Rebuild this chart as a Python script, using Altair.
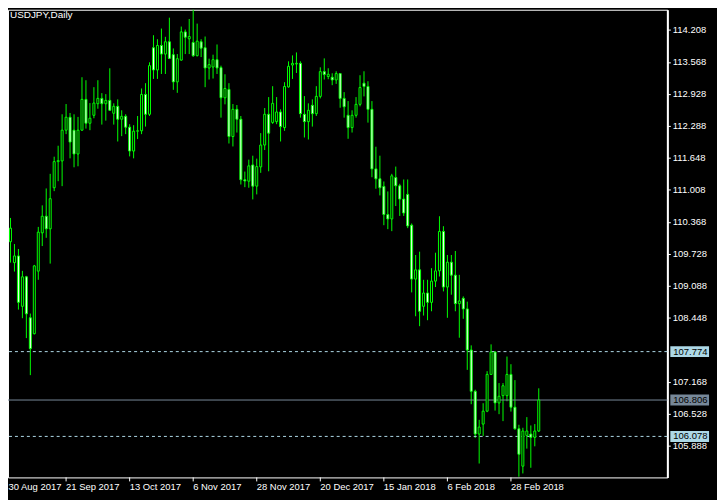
import altair as alt
import pandas as pd

# ---- OHLC data (daily USDJPY) ----
opens = [109.647, 110.322, 109.971, 109.554, 109.687, 108.680, 109.270, 108.450, 108.132, 109.383,
         110.149, 110.481, 110.229, 111.051, 111.573, 111.587, 112.202, 112.461, 112.202, 111.726,
         112.202, 112.818, 112.341, 112.500, 112.731, 112.838, 112.731, 112.798, 112.540, 112.679,
         112.421, 112.480, 112.262, 111.785, 112.183, 112.189, 112.917, 112.520, 113.851, 113.406,
         113.896, 113.724, 113.970, 113.712, 113.168, 113.604, 114.168, 114.029, 113.956, 113.692,
         113.970, 113.851, 113.446, 113.465, 113.612, 113.453, 112.850, 113.017, 112.075, 112.619,
         112.421, 111.210, 111.182, 111.507, 111.083, 111.468, 111.905, 112.520, 112.357, 112.373,
         112.566, 112.254, 113.068, 113.505, 113.525, 113.539, 112.520, 112.373, 112.699, 112.532,
         112.878, 113.374, 113.275, 113.261, 113.207, 113.334, 112.838, 112.500, 112.254, 112.500,
         112.719, 113.142, 113.076, 112.619, 111.428, 111.229, 111.077, 110.515, 110.427, 111.255,
         111.090, 110.824, 110.918, 110.302, 109.224, 109.409, 108.680, 108.946, 108.759, 109.184,
         109.389, 110.177, 109.065, 109.562, 109.303, 108.733, 108.839, 108.628, 107.806, 106.980,
         106.126, 106.325, 106.583, 107.318, 107.766, 106.748, 106.893, 106.893, 107.318, 106.662,
         106.231, 105.483, 106.098, 106.126, 106.059, 106.186]
highs = [110.362, 110.660, 110.447, 109.925, 109.826, 109.389, 109.289, 108.535, 109.508, 110.268,
         110.699, 111.037, 111.329, 111.672, 111.891, 112.520, 112.725, 112.546, 112.520, 112.467,
         113.261, 113.201, 112.745, 113.062, 113.201, 112.943, 112.923, 113.440, 112.739, 112.818,
         112.600, 112.520, 112.322, 112.302, 112.486, 113.036, 113.142, 113.559, 114.101, 114.021,
         114.234, 114.069, 114.452, 113.837, 113.724, 114.274, 114.214, 114.426, 114.716, 114.333,
         114.021, 114.075, 113.632, 113.712, 113.916, 113.493, 113.320, 113.142, 112.725, 112.705,
         112.486, 111.374, 111.613, 111.692, 111.633, 112.143, 112.645, 112.864, 113.082, 112.864,
         112.619, 113.162, 113.579, 113.698, 113.757, 113.579, 112.884, 112.739, 112.818, 113.082,
         113.459, 113.638, 113.440, 113.340, 113.380, 113.340, 112.963, 112.784, 112.600, 112.864,
         113.301, 113.380, 113.181, 112.784, 111.871, 111.692, 111.176, 110.977, 111.329, 111.474,
         111.130, 111.216, 111.216, 110.336, 109.706, 109.772, 109.210, 109.210, 109.442, 109.752,
         110.481, 110.282, 109.706, 109.706, 109.786, 109.309, 108.878, 108.773, 107.899, 107.012,
         106.410, 106.742, 107.383, 107.919, 107.780, 107.145, 107.145, 107.675, 107.522, 107.204,
         106.311, 106.251, 106.464, 106.297, 106.325, 107.040]
lows = [109.567, 109.871, 109.554, 109.375, 108.614, 108.442, 108.044, 107.304, 108.118, 109.210,
        109.885, 110.050, 109.534, 110.983, 111.182, 111.083, 112.123, 111.639, 111.460, 111.480,
        112.189, 112.234, 112.202, 112.441, 112.631, 112.314, 112.393, 112.586, 112.314, 111.976,
        112.083, 112.123, 111.678, 111.639, 112.024, 112.123, 112.274, 112.486, 113.227, 113.227,
        113.326, 113.326, 113.624, 113.009, 112.949, 113.592, 113.724, 113.724, 113.668, 113.678,
        113.664, 113.062, 113.215, 113.235, 113.326, 112.453, 112.719, 111.936, 111.877, 112.155,
        111.116, 111.063, 111.051, 110.818, 110.918, 111.349, 111.805, 111.380, 112.328, 112.322,
        111.976, 112.189, 113.052, 113.227, 113.346, 112.453, 112.056, 112.016, 112.274, 112.486,
        112.838, 113.215, 113.221, 113.102, 113.128, 112.651, 112.453, 112.030, 112.155, 112.453,
        112.679, 112.878, 112.353, 111.261, 111.031, 110.898, 110.302, 110.223, 110.183, 110.685,
        110.487, 110.487, 110.243, 108.958, 108.481, 108.283, 108.495, 108.402, 108.581, 109.065,
        109.276, 108.978, 108.450, 108.912, 108.581, 108.052, 108.430, 107.409, 106.722, 106.047,
        105.536, 106.087, 106.563, 107.310, 106.595, 106.523, 106.384, 106.781, 106.575, 106.212,
        105.272, 105.338, 105.834, 105.451, 105.880, 106.166]
closes = [110.322, 109.959, 110.243, 109.687, 108.759, 109.270, 108.529, 107.834, 109.488, 110.163,
          110.481, 110.229, 110.832, 111.573, 111.593, 112.202, 112.461, 111.964, 111.726, 112.202,
          112.818, 112.341, 112.441, 112.745, 112.838, 112.731, 112.798, 112.600, 112.679, 112.421,
          112.480, 112.262, 111.785, 112.183, 112.189, 112.917, 112.520, 113.493, 113.406, 113.896,
          113.724, 113.970, 113.638, 113.168, 113.632, 114.168, 114.061, 114.075, 113.692, 113.982,
          113.843, 113.446, 113.513, 113.612, 113.446, 112.850, 113.036, 112.075, 112.619, 112.421,
          111.210, 111.186, 111.488, 111.083, 111.474, 111.905, 112.520, 112.143, 112.739, 112.566,
          112.274, 113.076, 113.479, 113.539, 113.539, 112.532, 112.373, 112.600, 112.532, 112.878,
          113.374, 113.314, 113.320, 113.207, 113.334, 112.838, 112.671, 112.254, 112.500, 112.719,
          113.056, 113.076, 112.619, 111.428, 111.229, 111.051, 110.515, 110.427, 111.289, 111.090,
          110.824, 110.546, 110.288, 109.224, 109.409, 108.581, 108.946, 108.759, 109.184, 109.389,
          110.177, 109.065, 109.562, 109.303, 108.733, 108.787, 108.628, 107.806, 106.980, 106.126,
          106.265, 106.583, 107.318, 107.766, 106.748, 106.881, 107.091, 107.318, 106.662, 106.231,
          105.721, 106.186, 106.186, 106.059, 106.186, 106.806]

date_tick_idx = [0, 16, 32, 48, 64, 80, 96, 112, 128]
date_tick_labels = ["30 Aug 2017", "21 Sep 2017", "13 Oct 2017", "6 Nov 2017", "28 Nov 2017",
                    "20 Dec 2017", "15 Jan 2018", "6 Feb 2018", "28 Feb 2018"]
price_ticks = [114.208, 113.568, 112.928, 112.288, 111.648, 111.008, 110.368, 109.728,
               109.088, 108.448, 107.168, 106.528, 105.888]
level_prices = [107.774, 106.806, 106.078]
level_kinds = ["dash", "bid", "dash"]
level_colors = ["#ADD8E6", "#778899", "#ADD8E6"]

FONT = "Liberation Sans"
FS = 9.5
W, H = 664, 471
GREEN = "#00FF00"

df = pd.DataFrame({"i": list(range(len(opens))), "open": opens, "high": highs,
                   "low": lows, "close": closes})
df["dir"] = ["up" if c >= o else "down" for o, c in zip(opens, closes)]

dates = pd.DataFrame({"i": date_tick_idx, "label": date_tick_labels})
levels = pd.DataFrame({"price": level_prices, "kind": level_kinds, "col": level_colors})
levels["txt"] = [f"{p:.3f}" for p in level_prices]

xs = alt.Scale(domain=[1.375, 167.375], nice=False, zero=False, padding=0)
ys = alt.Scale(domain=[105.258, 114.611], nice=False, zero=False, padding=0)

yaxis = alt.Axis(orient="right", values=price_ticks, format=".3f", title=None, grid=False,
                 labelColor="white", labelFont=FONT, labelFontSize=FS, labelPadding=2,
                 tickColor="white", tickSize=3, domainColor="white", domainWidth=2,
                 labelOverlap=False)

def Y(field):
    return alt.Y(field, scale=ys, axis=yaxis)

def X(field):
    return alt.X(field, scale=xs, axis=None)

base = alt.Chart(df)

wicks = base.mark_rule(color=GREEN, strokeWidth=1, clip=True).encode(
    x=X("i:Q"), y=Y("low:Q"), y2="high:Q")

bodies = base.transform_calculate(
    xl="datum.i - 0.25", xr="datum.i + 0.25"
).mark_rect(stroke=GREEN, strokeWidth=1, clip=True).encode(
    x=X("xl:Q"), x2="xr:Q",
    y=Y("open:Q"), y2="close:Q",
    fill=alt.Fill("dir:N", scale=alt.Scale(domain=["up", "down"], range=["black", "white"]),
                  legend=None),
)

lv = alt.Chart(levels)
dash_lines = lv.transform_filter("datum.kind == 'dash'").mark_rule(
    color="#ADD8E6", strokeDash=[3, 3], strokeWidth=1).encode(y=Y("price:Q"))
bid_line = lv.transform_filter("datum.kind == 'bid'").mark_rule(
    color="#778899", strokeWidth=1).encode(y=Y("price:Q"))
boxes = lv.mark_rule(strokeWidth=11).encode(
    x=alt.value(W + 3), x2=alt.value(W + 42),
    y=Y("price:Q"),
    color=alt.Color("col:N", scale=None))
box_text = lv.mark_text(align="left", baseline="middle", color="black", font=FONT,
                        fontSize=FS).encode(
    x=alt.value(W + 6), y=Y("price:Q"), text="txt:N")

dt = alt.Chart(dates)
date_ticks = dt.mark_rule(color="white", strokeWidth=1).encode(
    x=X("i:Q"), y=alt.value(H), y2=alt.value(H + 4))
date_labels = dt.transform_calculate(lx="max(datum.i, 1.5)").mark_text(
    align="left", baseline="middle", color="white", font=FONT, fontSize=FS).encode(
    x=X("lx:Q"), y=alt.value(H + 10), text="label:N")

title = alt.Chart(pd.DataFrame({"t": ["USDJPY,Daily"]})).mark_text(
    align="left", baseline="top", color="white", font=FONT, fontSize=10).encode(
    x=alt.value(2), y=alt.value(0), text="t:N")

chart = alt.layer(
    wicks, dash_lines, bid_line, bodies, boxes, box_text, date_ticks, date_labels, title
).properties(
    width=W, height=H,
    autosize=alt.AutoSizeParams(type="none"),
    padding={"left": 0, "top": 0, "right": 50, "bottom": 21},
).configure(background="black").configure_view(stroke="white", strokeWidth=1)

chart.save("out.html", embed_options={"renderer": "svg", "actions": False})
